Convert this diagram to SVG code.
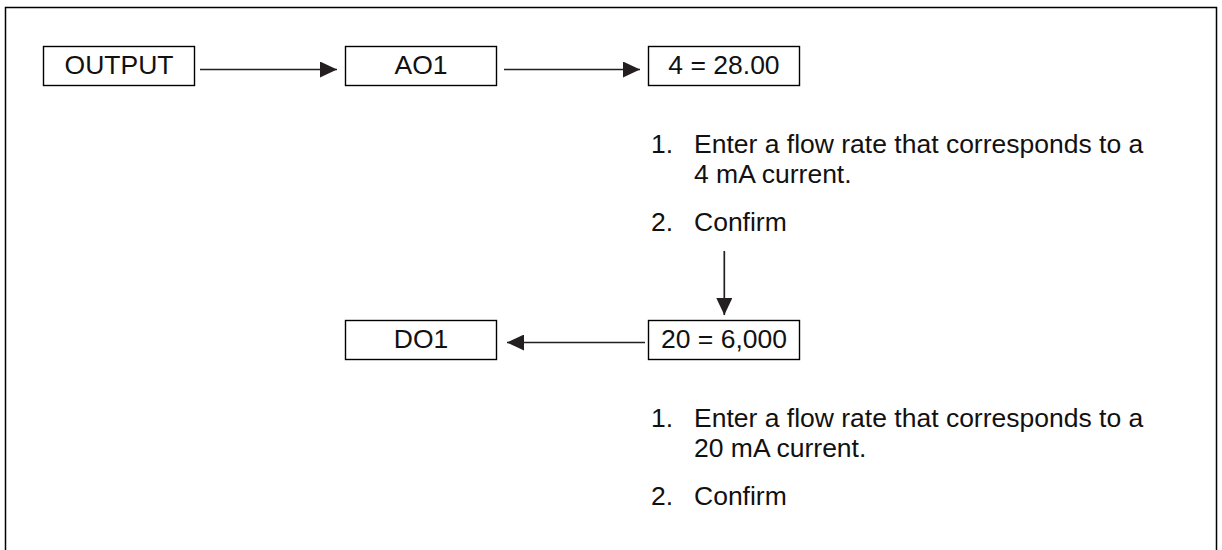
<svg xmlns="http://www.w3.org/2000/svg" width="1222" height="550" viewBox="0 0 1222 550">
<style>
.box{fill:#fff;stroke:#000;stroke-width:1.4}
.lbl{font-family:"Liberation Sans",Arial,sans-serif;font-size:26.5px;fill:#111;text-anchor:middle;dominant-baseline:central}
.txt{font-family:"Liberation Sans",Arial,sans-serif;font-size:26.5px;fill:#111}
.con{stroke:#231f20;stroke-width:1.7;fill:none}
</style>
<defs>
<marker id="ah" viewBox="0 0 17 16" refX="17" refY="8" markerWidth="17" markerHeight="16" markerUnits="userSpaceOnUse" orient="auto">
<path d="M0,0 L17,8 L0,16 Z" fill="#231f20"/>
</marker>
</defs>
<rect width="1222" height="550" fill="#fff"/>
<path d="M5.5,552 V7.5 H1216.5 V552" fill="none" stroke="#000" stroke-width="1.5"/>
<g id="connectors">
<line class="con" x1="200" y1="69.5" x2="337" y2="69.5" marker-end="url(#ah)"/>
<line class="con" x1="504" y1="69.5" x2="640" y2="69.5" marker-end="url(#ah)"/>
<line class="con" x1="724.3" y1="251" x2="724.3" y2="315" marker-end="url(#ah)"/>
<line class="con" x1="645" y1="342.5" x2="507" y2="342.5" marker-end="url(#ah)"/>
</g>
<g id="node-output">
<rect class="box" x="43.5" y="46.5" width="151" height="39"/>
<text class="lbl" x="119" y="65">OUTPUT</text>
</g>
<g id="node-ao1">
<rect class="box" x="345.5" y="46.5" width="151" height="39"/>
<text class="lbl" x="421" y="65">AO1</text>
</g>
<g id="node-4">
<rect class="box" x="648.5" y="46.5" width="151" height="39"/>
<text class="lbl" x="724" y="65">4 = 28.00</text>
</g>
<g id="node-do1">
<rect class="box" x="345.5" y="320.5" width="151" height="39"/>
<text class="lbl" x="421" y="339">DO1</text>
</g>
<g id="node-20">
<rect class="box" x="648.5" y="320.5" width="151" height="39"/>
<text class="lbl" x="724" y="339">20 = 6,000</text>
</g>
<g id="steps-1">
<text class="txt" x="651" y="153">1.</text>
<text class="txt" x="694" y="153">Enter a flow rate that corresponds to a</text>
<text class="txt" x="694" y="183">4 mA current.</text>
<text class="txt" x="651" y="231">2.</text>
<text class="txt" x="694" y="231">Confirm</text>
</g>
<g id="steps-2">
<text class="txt" x="651" y="427">1.</text>
<text class="txt" x="694" y="427">Enter a flow rate that corresponds to a</text>
<text class="txt" x="694" y="457">20 mA current.</text>
<text class="txt" x="651" y="505">2.</text>
<text class="txt" x="694" y="505">Confirm</text>
</g>
</svg>
